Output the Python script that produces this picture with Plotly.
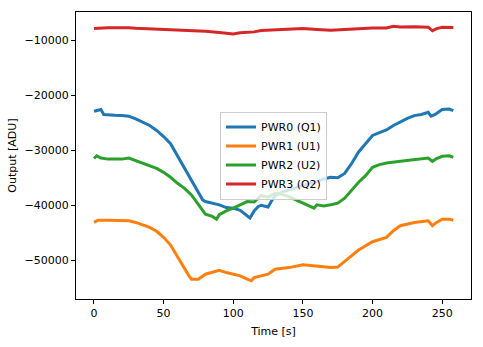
import plotly.graph_objects as go

t_blue = [0,3,5,7,10,15,20,25,30,35,40,45,50,55,60,65,70,75,78,80,85,90,95,100,105,108,110,112,115,118,120,125,128,130,135,140,145,150,155,160,165,170,175,180,185,190,195,200,205,210,215,220,225,230,235,240,242,245,250,255,258]
pwr0 = [-22900,-22700,-22600,-23500,-23600,-23650,-23700,-23800,-24300,-24900,-25500,-26400,-27500,-28800,-31000,-33300,-35400,-37500,-39000,-39300,-39600,-39900,-40400,-40500,-40900,-41500,-42000,-42300,-41000,-40200,-40000,-40300,-39000,-38300,-37600,-37200,-36700,-36300,-36000,-35700,-35200,-34900,-35000,-34200,-32400,-30300,-28700,-27300,-26800,-26300,-25500,-24800,-24200,-23700,-23500,-23100,-23800,-23500,-22600,-22500,-22800]

t_orange = [0,3,10,20,25,30,40,45,50,55,60,65,68,70,75,80,85,90,95,100,105,110,113,115,120,125,130,140,150,160,170,175,180,190,200,210,215,220,230,240,243,246,250,255,258]
pwr1 = [-43100,-42700,-42700,-42700,-42800,-43100,-44000,-44700,-45800,-47200,-49300,-51600,-52700,-53400,-53400,-52500,-52200,-51800,-52200,-52500,-52800,-53400,-53700,-53100,-52800,-52500,-51600,-51300,-50800,-51000,-51300,-51200,-50200,-48100,-46600,-45800,-44600,-43700,-43100,-42800,-43700,-43100,-42500,-42500,-42700]

t_green = [0,2,5,10,15,20,25,30,35,40,45,50,55,60,65,70,75,80,85,88,90,95,100,105,110,115,120,125,130,135,140,145,150,155,158,160,165,170,175,180,185,190,195,200,205,210,220,230,240,243,246,250,255,258]
pwr2 = [-31500,-31000,-31400,-31600,-31600,-31600,-31400,-31900,-32300,-32800,-33300,-34000,-34900,-36000,-36900,-38100,-39900,-41600,-42000,-42500,-41700,-41000,-40500,-39900,-39300,-39400,-38200,-38500,-37800,-38000,-38400,-39000,-39600,-40200,-40500,-39900,-40100,-39900,-39600,-38700,-37200,-35800,-34600,-33100,-32600,-32300,-32000,-31700,-31400,-32000,-31500,-31100,-31000,-31300]

t_red = [0,5,10,15,20,25,30,40,50,60,70,80,90,95,100,105,110,115,120,130,140,150,160,170,180,190,200,210,215,220,230,240,243,246,250,258]
pwr3 = [-7900,-7800,-7750,-7750,-7700,-7750,-7850,-7950,-8150,-8250,-8250,-8400,-8600,-8750,-8900,-8650,-8600,-8500,-8250,-8100,-8000,-7900,-8050,-8200,-8050,-7900,-7800,-7800,-7500,-7600,-7550,-7650,-8300,-7900,-7650,-7700]

y_tickvals = [-50000, -40000, -30000, -20000, -10000]
y_ticktext = ["\u221250000", "\u221240000", "\u221230000", "\u221220000", "\u221210000"]
x_tickvals = [0, 50, 100, 150, 200, 250]

names = ["PWR0 (Q1)", "PWR1 (U1)", "PWR2 (U2)", "PWR3 (Q2)"]
colors = ["#1f77b4", "#ff7f0e", "#2ca02c", "#d62728"]
series = [(t_blue, pwr0), (t_orange, pwr1), (t_green, pwr2), (t_red, pwr3)]

fig = go.Figure()
for (tx, ty), n, c in zip(series, names, colors):
    fig.add_trace(go.Scatter(x=tx, y=ty, mode="lines", name=n,
                             line=dict(color=c, width=3)))

font = dict(family="DejaVu Sans", size=11, color="black")
axis_common = dict(showline=True, linecolor="black", linewidth=1, mirror=True,
                   ticks="outside", ticklen=4, tickcolor="black", showgrid=False,
                   zeroline=False, tickfont=font)
fig.update_layout(
    width=483, height=347,
    margin=dict(l=76, r=11, t=11, b=40),
    paper_bgcolor="white", plot_bgcolor="white",
    font=font,
    xaxis=dict(range=[-12.9, 270.7], tickmode="array", tickvals=x_tickvals,
               ticktext=[str(v) for v in x_tickvals],
               title=dict(text="Time [s]", font=font, standoff=8), **axis_common),
    yaxis=dict(range=[-57000, -4890], tickmode="array", tickvals=y_tickvals,
               ticktext=y_ticktext,
               title=dict(text="Output [ADU]", font=font, standoff=5), **axis_common),
    legend=dict(x=0.5, y=0.5, xanchor="center", yanchor="middle",
                bgcolor="rgba(255,255,255,0.8)", bordercolor="#cccccc", borderwidth=1,
                font=font, tracegroupgap=0),
    showlegend=True,
)
fig.write_html("out.html")
